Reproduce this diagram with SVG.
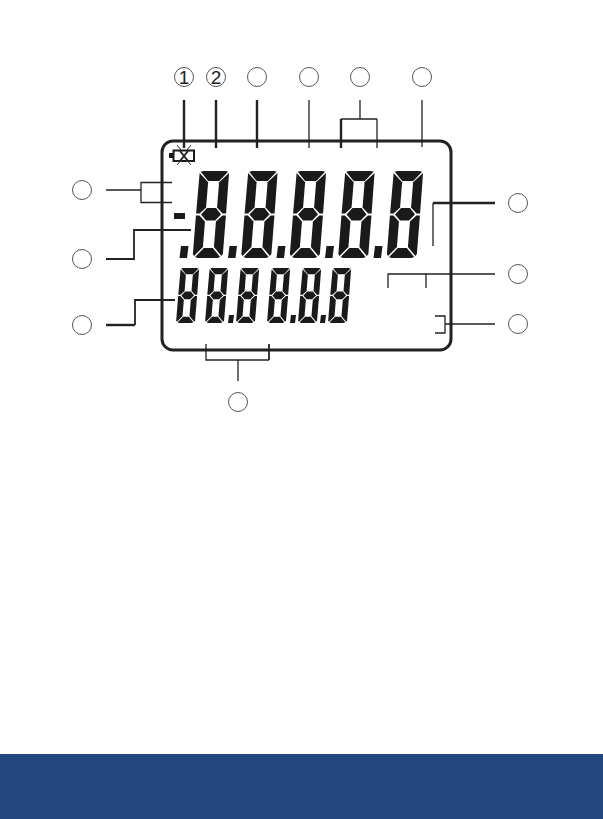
<svg xmlns="http://www.w3.org/2000/svg" xmlns:xlink="http://www.w3.org/1999/xlink" width="603" height="819" viewBox="0 0 603 819">
<style>
.c{fill:#fff;stroke:#555;stroke-width:1}
.t{fill:none;stroke:#222;stroke-width:1.3}
.m{fill:none;stroke:#222;stroke-width:1.8}
.k{fill:none;stroke:#222;stroke-width:2.4}
.s{fill:#1a1a1a}
.n{font-family:"Liberation Sans",Arial,sans-serif;font-size:19px;fill:#222;text-anchor:middle}
</style>
<defs>
<g id="digit" class="s">
<path d="M4 0H26L28.700 .8 20.500 10H9.500L1.300 .8Z"/>
<path d="M.3 2 9.500 11.200V36.500L3.500 42.500H0Z"/>
<path d="M29.700 2 20.500 11.200V36.500L26.500 42.500H30Z"/>
<path d="M5 43.500 10.500 37H19.500L25 43.500 19.500 49.500H10.500Z"/>
<path d="M0 44.500H3.500L9.500 50.500V76L1.300 85 0 83Z"/>
<path d="M30 44.500H26.500L20.500 50.500V76L28.700 85 30 83Z"/>
<path d="M2.500 86 10.500 77H19.500L27.500 86 25 87H5Z"/>
</g>
</defs>
<rect width="603" height="819" fill="#fff"/>
<rect id="band" x="0" y="754" width="603" height="65" fill="#24477f"/>
<g id="display">
<rect x="162" y="141" width="289" height="209" rx="11" fill="#fff" stroke="#222" stroke-width="3"/>
</g>
<g id="battery">
<rect x="169" y="153" width="4" height="5" class="s"/>
<rect x="173.500" y="150.500" width="20.500" height="10.500" fill="#fff" stroke="#1a1a1a" stroke-width="2"/>
<path d="M180 151 188 161M188 151 180 161" fill="none" stroke="#222" stroke-width="2"/>
<path d="M177 145 181 150M191 145 187 150M177 165 181 160M191 165 187 160" fill="none" stroke="#333" stroke-width="1"/>
</g>
<g id="main-readout">
<use xlink:href="#digit" href="#digit" transform="matrix(1 0 -.08 1 199.500 171)"/>
<use xlink:href="#digit" href="#digit" transform="matrix(1 0 -.08 1 248 171)"/>
<use xlink:href="#digit" href="#digit" transform="matrix(1 0 -.08 1 296.500 171)"/>
<use xlink:href="#digit" href="#digit" transform="matrix(1 0 -.08 1 345 171)"/>
<use xlink:href="#digit" href="#digit" transform="matrix(1 0 -.08 1 393.500 171)"/>
<rect x="174" y="213" width="11" height="6" class="s"/>
<path class="s" d="M181 246H188.500L187 258H179.500Z"/>
<path class="s" d="M229.500 246H237L235.500 258H228Z"/>
<path class="s" d="M278 246H285.500L284 258H276.500Z"/>
<path class="s" d="M326.500 246H334L332.500 258H325Z"/>
<path class="s" d="M375 246H382.500L381 258H373.500Z"/>
</g>
<g id="secondary-readout">
<use xlink:href="#digit" href="#digit" transform="matrix(.63 0 -.052 .632 180.500 268)"/>
<use xlink:href="#digit" href="#digit" transform="matrix(.63 0 -.052 .632 209.500 268)"/>
<use xlink:href="#digit" href="#digit" transform="matrix(.63 0 -.052 .632 240.500 268)"/>
<use xlink:href="#digit" href="#digit" transform="matrix(.63 0 -.052 .632 271.500 268)"/>
<use xlink:href="#digit" href="#digit" transform="matrix(.63 0 -.052 .632 302.500 268)"/>
<use xlink:href="#digit" href="#digit" transform="matrix(.63 0 -.052 .632 332.500 268)"/>
<path class="s" d="M229 315H234L233 323H228Z"/>
<path class="s" d="M291 315H296L295 323H290Z"/>
<path class="s" d="M321 315H326L325 323H320Z"/>
</g>
<g id="connectors">
<path class="k" d="M184 100V148M216 100V148M257 100V148"/>
<path class="t" d="M309 100V148M360 100V119M377 119V148M422 100V147"/>
<path class="t" d="M341 119H377"/>
<path class="k" d="M341 148V119"/>
<path class="t" d="M106 190H141M172 182.500H141V202.500H172"/>
<path class="m" d="M106 259H134V230H191"/>
<path class="k" d="M106 325H135"/>
<path class="m" d="M135 325V300H175"/>
<path class="t" d="M206 344V360H269M238 360V381"/>
<path class="m" d="M269 344V360"/>
<path class="k" d="M495 203H433"/>
<path class="t" d="M433 203V246"/>
<path class="t" d="M495 274H388V288M426 274V288"/>
<path class="t" d="M495 324H445M435 316H445V333H435"/>
</g>
<g id="n1"><circle class="c" cx="184" cy="77" r="9.500"/><text class="n" x="184" y="84">1</text></g>
<g id="n2"><circle class="c" cx="216" cy="77" r="9.500"/><text class="n" x="216" y="84">2</text></g>
<g id="n3"><circle class="c" cx="257" cy="77" r="9.500"/></g>
<g id="n4"><circle class="c" cx="309" cy="77" r="9.500"/></g>
<g id="n5"><circle class="c" cx="360" cy="77" r="9.500"/></g>
<g id="n6"><circle class="c" cx="422" cy="77" r="9.500"/></g>
<g id="n7"><circle class="c" cx="82" cy="190" r="9.500"/></g>
<g id="n8"><circle class="c" cx="82" cy="259" r="9.500"/></g>
<g id="n9"><circle class="c" cx="82" cy="325" r="9.500"/></g>
<g id="n10"><circle class="c" cx="238" cy="402" r="9.500"/></g>
<g id="n11"><circle class="c" cx="518" cy="203" r="9.500"/></g>
<g id="n12"><circle class="c" cx="518" cy="274" r="9.500"/></g>
<g id="n13"><circle class="c" cx="518" cy="324" r="9.500"/></g>
</svg>
